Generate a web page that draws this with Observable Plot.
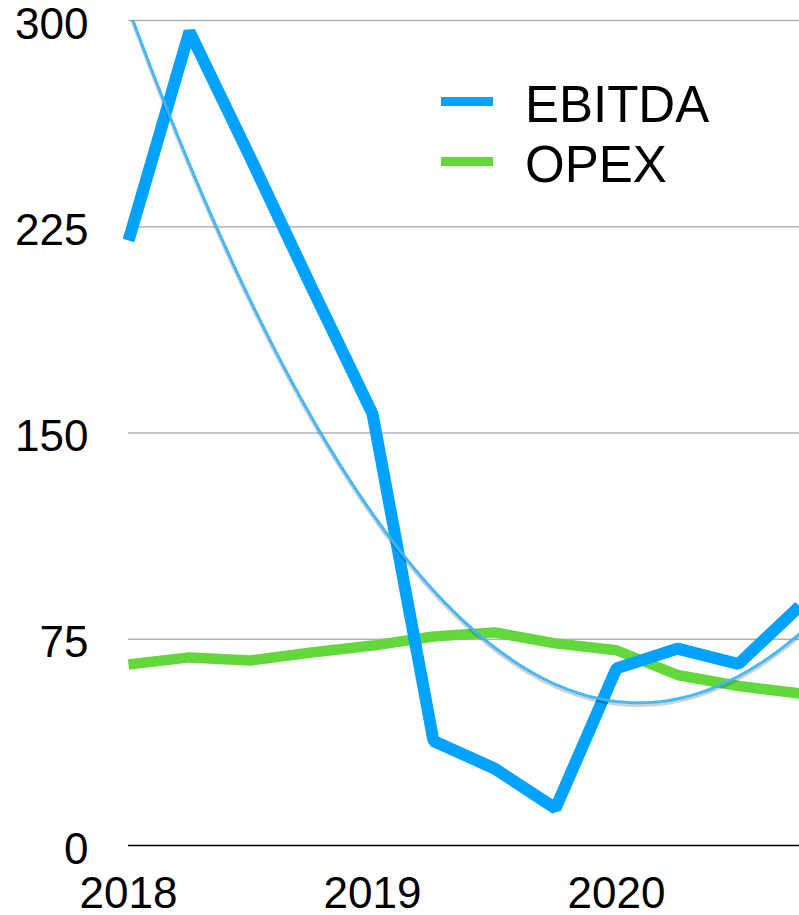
<!DOCTYPE html>
<html><head><meta charset="utf-8">
<script src="https://cdn.jsdelivr.net/npm/d3@7"></script>
<script src="https://cdn.jsdelivr.net/npm/@observablehq/plot@0.6"></script>
<style>
body{margin:0;background:#fff;}
#wrap{position:relative;width:799px;height:915px;font-family:"Liberation Sans",Arial,sans-serif;}
.sw{position:absolute;left:441px;width:52px;height:9px;}
.lt{position:absolute;left:525px;font-size:51px;line-height:51px;color:#000;white-space:nowrap;}
</style></head><body>
<div id="wrap"></div>
<script>
// Quarterly data, 2018 Q1 – 2020 Q4
const quarters = ["2018 Q1","2018 Q2","2018 Q3","2018 Q4","2019 Q1","2019 Q2","2019 Q3","2019 Q4","2020 Q1","2020 Q2","2020 Q3","2020 Q4"];
const ebitda = [220, 296, 250, 203, 157, 38, 28, 13.5, 64.4, 71.6, 66, 87];
const opex   = [65.8, 68.4, 67.3, 70.2, 72.7, 76, 77.5, 73.5, 71, 62, 58, 55.3];
const yTicks = [0, 75, 150, 225, 300];
const yearLabels = ["2018", "2019", "2020"];
const seriesNames = ["EBITDA", "OPEX"];
const colors = {EBITDA: "#00a2ff", OPEX: "#62d83a", trend: "#3db6f7"};

const rows = quarters.map((q, i) => ({i, q, ebitda: ebitda[i], opex: opex[i]}));
const yearStarts = yearLabels.map(y => quarters.indexOf(y + " Q1"));

// Quadratic (order-2 polynomial) least-squares trendline of EBITDA
function polyFit2(xs, ys) {
  let S = [0,0,0,0,0], T = [0,0,0];
  xs.forEach((x, k) => {
    for (let p = 0; p < 5; p++) S[p] += Math.pow(x, p);
    for (let p = 0; p < 3; p++) T[p] += Math.pow(x, p) * ys[k];
  });
  const M = [[S[0],S[1],S[2]],[S[1],S[2],S[3]],[S[2],S[3],S[4]]];
  const det = m => m[0][0]*(m[1][1]*m[2][2]-m[1][2]*m[2][1]) - m[0][1]*(m[1][0]*m[2][2]-m[1][2]*m[2][0]) + m[0][2]*(m[1][0]*m[2][1]-m[1][1]*m[2][0]);
  const D = det(M);
  const coef = [0,1,2].map(c => det(M.map((r, ri) => r.map((v, ci) => ci === c ? T[ri] : v))) / D);
  return x => coef[0] + coef[1]*x + coef[2]*x*x;
}
const fit = polyFit2(rows.map(d => d.i), ebitda);
const trend = d3.range(0, quarters.length - 1 + 1e-9, 0.1).map(t => ({t, v: fit(t)}));

const chart = Plot.plot({
  width: 799,
  height: 915,
  marginLeft: 128,
  marginRight: 0,
  marginTop: 20,
  marginBottom: 70,
  style: {fontFamily: "Liberation Sans, Arial, sans-serif", background: "#fff", overflow: "visible"},
  x: {domain: [0, quarters.length - 1]},
  y: {domain: [0, 300]},
  marks: [
    Plot.ruleY(yTicks.filter(d => d > 0), {stroke: "#b3b3b3", strokeWidth: 1.5}),
    Plot.ruleY([0], {stroke: "#000", strokeWidth: 1.5}),
    Plot.axisY({ticks: yTicks, tickSize: 0, tickPadding: 40, fontSize: 44, fill: "#000", dy: 4, label: null}),
    Plot.axisX({ticks: yearStarts, tickFormat: i => yearLabels[yearStarts.indexOf(i)], tickSize: 0, tickPadding: 31, fontSize: 44, fill: "#000", label: null}),
    Plot.line(rows, {x: "i", y: "opex", stroke: colors.OPEX, strokeWidth: 10.5, strokeLinejoin: "miter", strokeLinecap: "butt"}),
    Plot.line(rows, {x: "i", y: "ebitda", stroke: colors.EBITDA, strokeWidth: 12, strokeLinejoin: "miter", strokeLinecap: "butt"}),
    Plot.line(trend, {x: "t", y: "v", stroke: "#000", strokeOpacity: 0.18, strokeWidth: 3.5, dy: 2.5, curve: "linear", clip: "frame"}),
    Plot.line(trend, {x: "t", y: "v", stroke: colors.trend, strokeWidth: 3, strokeOpacity: 0.95, curve: "linear", clip: "frame"})
  ]
});
const wrap = document.getElementById("wrap");
wrap.appendChild(chart);

// Legend overlay
const legendTops = [97, 157];
seriesNames.forEach((name, k) => {
  const sw = document.createElement("div");
  sw.className = "sw";
  sw.style.top = legendTops[k] + "px";
  sw.style.background = colors[name];
  wrap.appendChild(sw);
  const t = document.createElement("div");
  t.className = "lt";
  t.style.top = (legendTops[k] - 18) + "px";
  t.textContent = name;
  wrap.appendChild(t);
});
</script>
</body></html>
